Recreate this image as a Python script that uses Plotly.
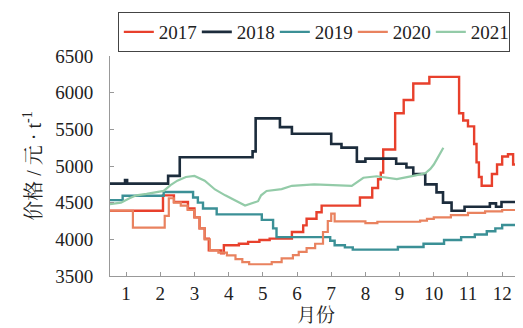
import plotly.graph_objects as go

# month positions (x) and prices (yuan/t)
x17 = [0.53, 2.08, 2.40, 2.81, 3.00, 3.15, 3.30, 3.42, 3.78, 3.86, 4.30, 4.57, 4.90, 5.20, 5.85, 6.18, 6.28, 6.57, 6.72, 7.84, 8.20, 8.37, 8.45, 8.52, 8.87, 9.12, 9.40, 9.87, 10.74, 10.86, 11.00, 11.18, 11.25, 11.32, 11.40, 11.70, 11.85, 12.00, 12.17, 12.32, 12.45, 12.58]
y17 = [4390, 4600, 4510, 4420, 4300, 4150, 4010, 3850, 3810, 3920, 3940, 3965, 3990, 4010, 4100, 4190, 4280, 4370, 4460, 4570, 4700, 4820, 4910, 5225, 5720, 5900, 6125, 6215, 5720, 5620, 5540, 5300, 5050, 4850, 4730, 4890, 5020, 5130, 5160, 5020, 4930, 4930]

x18 = [0.53, 0.97, 1.03, 2.23, 2.57, 4.70, 4.79, 5.50, 5.85, 7.00, 7.30, 7.75, 8.00, 8.90, 9.20, 9.40, 9.75, 10.08, 10.27, 10.52, 10.90, 11.64, 11.82, 11.98, 12.58]
y18 = [4760, 4810, 4760, 4865, 5120, 5200, 5650, 5530, 5440, 5300, 5250, 5060, 5100, 5030, 4980, 4890, 4750, 4640, 4500, 4390, 4445, 4490, 4445, 4510, 4510]

x19 = [0.53, 0.90, 2.10, 2.96, 3.10, 3.25, 3.65, 4.97, 5.30, 5.40, 6.97, 7.10, 7.40, 7.63, 8.95, 9.70, 10.30, 10.80, 11.20, 11.55, 11.80, 12.00, 12.58]
y19 = [4535, 4595, 4645, 4570, 4500, 4420, 4340, 4265, 4150, 4030, 3980, 3920, 3890, 3860, 3895, 3940, 3990, 4030, 4065, 4110, 4150, 4195, 4195]

x20 = [0.53, 1.20, 2.13, 2.25, 2.40, 2.60, 2.80, 3.00, 3.15, 3.30, 3.45, 3.70, 3.95, 4.20, 4.40, 4.60, 5.26, 5.55, 5.88, 6.05, 6.28, 6.53, 6.76, 6.90, 7.00, 7.10, 8.00, 8.35, 9.00, 9.60, 9.80, 10.00, 10.50, 11.00, 11.50, 12.00, 12.58]
y20 = [4390, 4160, 4320, 4560, 4500, 4460, 4400, 4300, 4150, 4000, 3850, 3820, 3780, 3730, 3690, 3660, 3690, 3740, 3785, 3830, 3880, 3940, 4100, 4250, 4350, 4245, 4220, 4240, 4240, 4255, 4280, 4300, 4330, 4360, 4380, 4400, 4420]

x21 = [0.53, 0.85, 1.10, 1.30, 1.60, 2.10, 2.30, 2.50, 2.75, 3.00, 3.30, 3.60, 3.90, 4.19, 4.48, 4.86, 4.95, 5.11, 5.55, 5.85, 6.50, 7.60, 7.80, 7.94, 8.33, 8.92, 9.40, 9.75, 9.90, 10.00, 10.10, 10.18, 10.28]
y21 = [4480, 4500, 4560, 4600, 4620, 4660, 4740, 4800, 4850, 4865, 4800, 4680, 4600, 4525, 4460, 4520, 4600, 4660, 4685, 4730, 4750, 4730, 4800, 4840, 4860, 4820, 4865, 4900, 4960, 5020, 5100, 5160, 5250]

month_ticks = [1, 2, 3, 4, 5, 6, 7, 8, 9, 10, 11, 12]
price_ticks = [3500, 4000, 4500, 5000, 5500, 6000, 6500]

series = [
    ("2017", x17, y17, "#e8402c", "hv", 2.4),
    ("2018", x18, y18, "#1c2c3c", "hv", 2.6),
    ("2019", x19, y19, "#3b9096", "hv", 2.4),
    ("2020", x20, y20, "#e9825f", "hv", 2.2),
    ("2021", x21, y21, "#93cba8", "linear", 2.2),
]

fig = go.Figure()
for name, xs, ys, col, shape, w in series:
    fig.add_trace(go.Scatter(x=xs, y=ys, mode="lines", name=name,
                             line=dict(color=col, width=w, shape=shape)))

serif = "Liberation Serif, Noto Serif CJK SC, Noto Sans CJK SC, serif"
# the page keeps the browser's default 8px body margin, so the figure is 8px smaller
fig.update_layout(
    autosize=False,
    width=515, height=320,
    margin=dict(l=102, r=1, t=48, b=52, autoexpand=False),
    paper_bgcolor="white", plot_bgcolor="white",
    font=dict(family=serif, size=19, color="#222"),
    showlegend=True,
    legend=dict(orientation="h", x=0.019, y=1.2, xanchor="left", yanchor="top",
                bordercolor="#444", borderwidth=1, font=dict(size=19, family=serif),
                entrywidth=33, entrywidthmode="pixels", itemwidth=30,
                bgcolor="white"),
    xaxis=dict(range=[0.53, 12.58], tickvals=month_ticks, ticktext=[str(m) for m in month_ticks],
               showline=True, linecolor="#999", linewidth=1, ticks="inside", ticklen=4,
               tickcolor="#999", showgrid=False, zeroline=False,
               tickfont=dict(size=19, family=serif),
               title=dict(text="月份", font=dict(size=19, family=serif), standoff=5)),
    yaxis=dict(range=[3500, 6500], tickvals=price_ticks,
               showline=True, linecolor="#999", linewidth=1, ticks="inside", ticklen=4,
               tickcolor="#999", showgrid=False, zeroline=False,
               tickfont=dict(size=19, family=serif), ticklabelstandoff=12,
               title=dict(text="价格 / 元 · t<sup>-1</sup>", font=dict(size=20, family=serif), standoff=8)),
)

fig.write_html("out.html", config={"displayModeBar": False, "responsive": False})
